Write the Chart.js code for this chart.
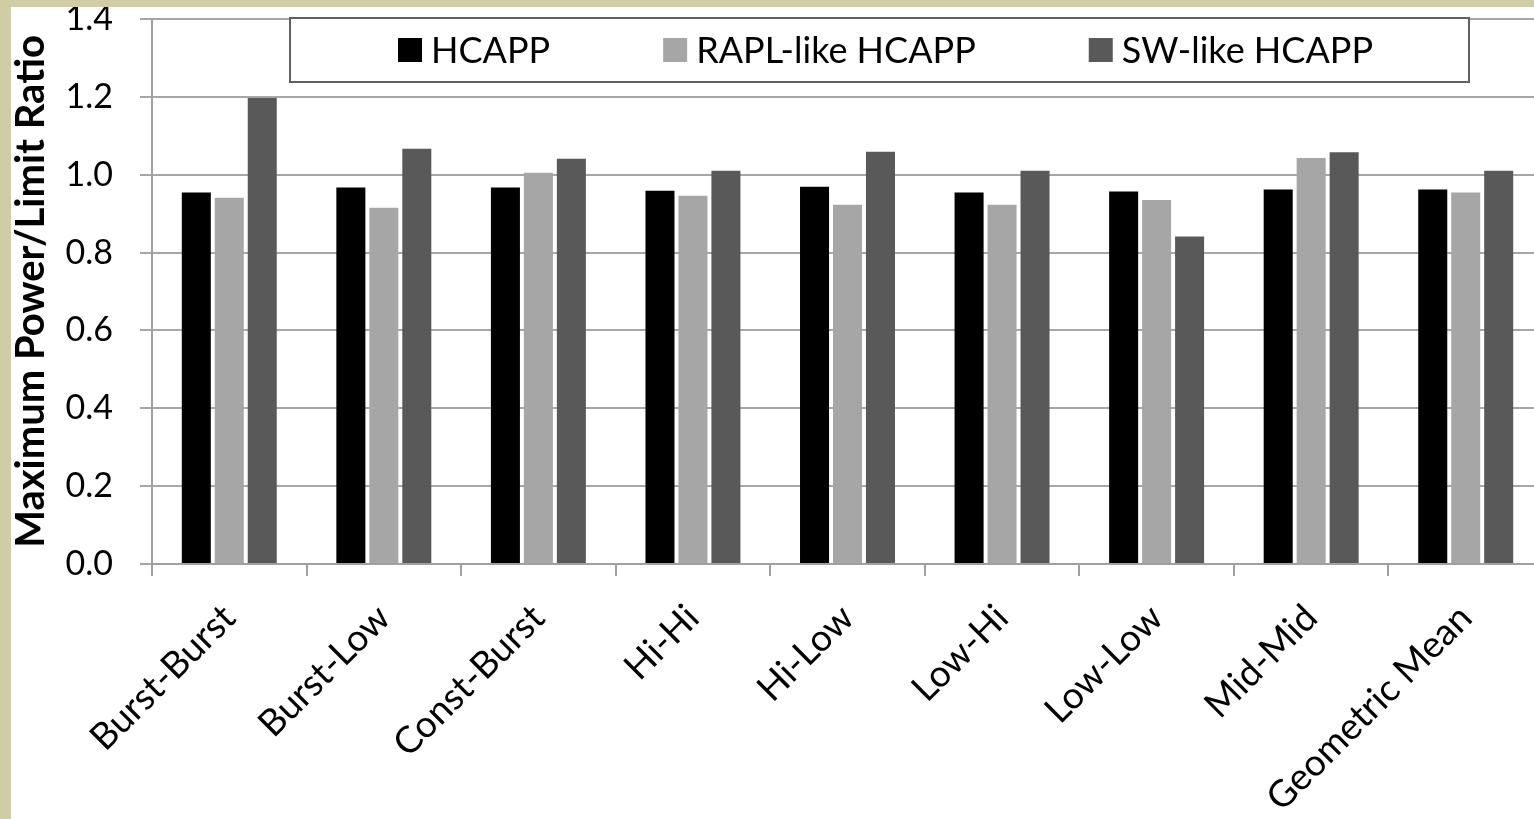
<!DOCTYPE html>
<html>
<head>
<meta charset="utf-8">
<script src="https://cdn.jsdelivr.net/npm/chart.js@4"></script>
<style>
  html, body { margin: 0; padding: 0; overflow: hidden; background: #cfcca6; width: 1534px; height: 819px; }
  #wrap { position: absolute; left: 11px; top: 7px; width: 1523px; height: 812px; background: #fff; overflow: hidden; }
  #chart { position: absolute; left: 0; top: 0; }
</style>
</head>
<body>
<div id="wrap"><canvas id="chart" width="1535" height="812"></canvas></div>
<script>
const workloads = ["Burst-Burst", "Burst-Low", "Const-Burst", "Hi-Hi", "Hi-Low", "Low-Hi", "Low-Low", "Mid-Mid", "Geometric Mean"];
const hcapp     = [0.954, 0.967, 0.967, 0.959, 0.969, 0.954, 0.957, 0.962, 0.962];
const raplLike  = [0.941, 0.915, 1.005, 0.946, 0.923, 0.923, 0.935, 1.043, 0.954];
const swLike    = [1.197, 1.067, 1.041, 1.010, 1.059, 1.010, 0.841, 1.058, 1.010];
const yTicks = [0, 0.2, 0.4, 0.6, 0.8, 1.0, 1.2, 1.4];

Chart.defaults.font.family = "Lato";
Chart.defaults.color = "#000";

// boxed legend drawn inside the plot, like the original figure
const boxLegend = {
  id: "boxLegend",
  afterDraw(chart) {
    const ctx = chart.ctx;
    const ca = chart.chartArea;
    const bx = ca.left + 138, by = ca.top - 1, bw = 1179, bh = 64;
    ctx.save();
    ctx.fillStyle = "#fff";
    ctx.fillRect(bx, by, bw, bh);
    ctx.strokeStyle = "#606060";
    ctx.lineWidth = 2;
    ctx.strokeRect(bx, by, bw, bh);

    ctx.font = "36px Lato";
    ctx.textBaseline = "middle";
    const sq = 24, gapText = 9, gapItem = 113;
    const items = chart.data.datasets.map(d => ({ label: d.label, color: d.backgroundColor, w: sq + gapText + ctx.measureText(d.label).width }));
    const total = items.reduce((s, it) => s + it.w, 0) + gapItem * (items.length - 1);
    let x = bx + (bw - total) / 2 + 6;
    const cy = by + bh / 2;
    items.forEach(it => {
      ctx.fillStyle = it.color;
      ctx.fillRect(x, cy - sq / 2, sq, sq);
      ctx.fillStyle = "#000";
      ctx.fillText(it.label, x + sq + gapText, cy + 1);
      x += it.w + gapItem;
    });
    ctx.restore();
  }
};

new Chart(document.getElementById("chart"), {
  type: "bar",
  data: {
    labels: workloads,
    datasets: [
      { label: "HCAPP", data: hcapp, backgroundColor: "#000000" },
      { label: "RAPL-like HCAPP", data: raplLike, backgroundColor: "#a6a6a6" },
      { label: "SW-like HCAPP", data: swLike, backgroundColor: "#595959" }
    ]
  },
  options: {
    responsive: false,
    animation: false,
    categoryPercentage: 0.64,
    barPercentage: 0.88,
    layout: { padding: { top: 12, right: 3, left: 0, bottom: 0 } },
    plugins: { legend: { display: false }, tooltip: { enabled: false } },
    scales: {
      x: {
        grid: { offset: true, drawOnChartArea: false, drawTicks: true, tickLength: 12, color: "#a0a0a0", lineWidth: 2 },
        border: { display: true, color: "#a0a0a0", width: 2 },
        ticks: { font: { size: 37 }, color: "#000", minRotation: 45, maxRotation: 45, padding: 20, autoSkip: false },
        afterFit(s) { s.height = 255; s.paddingLeft = 0; s.paddingRight = 0; }
      },
      y: {
        min: 0,
        max: 1.4,
        afterBuildTicks(s) { s.ticks = yTicks.map(v => ({ value: v })); },
        ticks: { font: { size: 34 }, color: "#000", padding: 27, callback: v => v.toFixed(1) },
        grid: { color: "#a6a6a6", lineWidth: 2, tickLength: 12 },
        border: { display: true, color: "#a0a0a0", width: 2 },
        title: { display: true, text: "Maximum Power/Limit Ratio", font: { size: 40, weight: "bold", lineHeight: 1 }, color: "#000", padding: { top: 0, bottom: 0 } },
        afterFit(s) { s.width = 141; s.paddingTop = 0; s.paddingBottom = 0; }
      }
    }
  },
  plugins: [boxLegend]
});
</script>
</body>
</html>
